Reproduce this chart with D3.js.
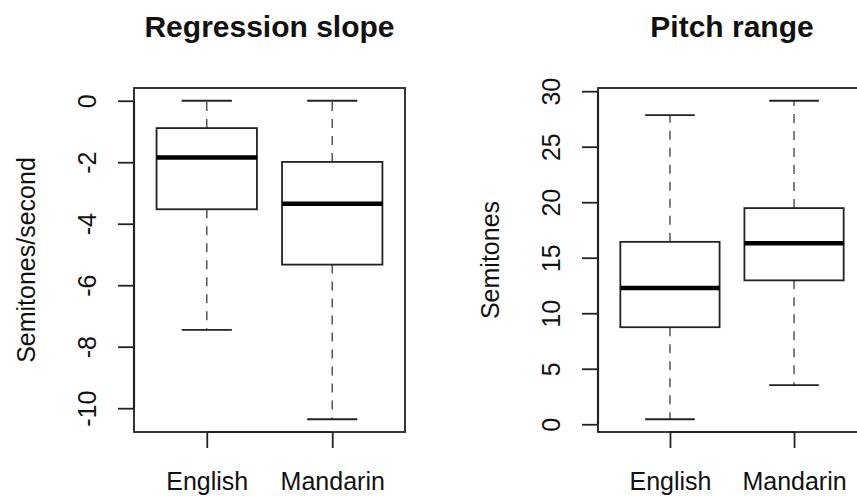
<!DOCTYPE html>
<html>
<head>
<meta charset="utf-8">
<script src="https://cdn.jsdelivr.net/npm/d3@7"></script>
<style>
  html, body { margin: 0; padding: 0; background: #fff; }
  svg { display: block; }
  text { font-family: "Liberation Sans", Arial, Helvetica, sans-serif; fill: #111; }
</style>
</head>
<body>
<svg id="chart" width="857" height="496"></svg>
<script>
// Groups shown in both panels
const categories = ["English", "Mandarin"];

// Five-number summaries: [lower whisker, Q1, median, Q3, upper whisker]
const slopeEnglish  = [-7.45, -3.53, -1.85, -0.89, 0];
const slopeMandarin = [-10.36, -5.33, -3.35, -1.99, 0];
const rangeEnglish  = [0.45, 8.74, 12.27, 16.43, 27.85];
const rangeMandarin = [3.53, 12.96, 16.30, 19.47, 29.14];

// Axis tick values
const slopeTicks = [0, -2, -4, -6, -8, -10];
const rangeTicks = [0, 5, 10, 15, 20, 25, 30];

// Panel titles and y-axis labels
const titles = ["Regression slope", "Pitch range"];
const yLabels = ["Semitones/second", "Semitones"];

const panels = [
  { title: titles[0], ylab: yLabels[0], stats: [slopeEnglish, slopeMandarin], ticks: slopeTicks,
    left: 134, right: 405 },
  { title: titles[1], ylab: yLabels[1], stats: [rangeEnglish, rangeMandarin], ticks: rangeTicks,
    left: 598, right: 866 }
];

const plotTop = 88, plotBottom = 432;
const svg = d3.select("#chart");
const lineCol = "#222";
const fontStack = "'Liberation Sans', Arial, Helvetica, sans-serif";

// Extend a range by 4% on each side, the way base-R plots pad their axes
function padded(lo, hi) {
  const d = (hi - lo) * 0.04;
  return [lo - d, hi + d];
}

panels.forEach(p => {
  const g = svg.append("g");
  const all = p.stats.flat();
  const y = d3.scaleLinear().domain(padded(d3.min(all), d3.max(all))).range([plotBottom, plotTop]);
  const positions = categories.map((c, i) => i + 1);
  const x = d3.scaleLinear().domain(padded(0.5, categories.length + 0.5)).range([p.left, p.right]);
  const unit = x(2) - x(1);
  const boxW = 0.8 * unit;
  const capW = boxW / 2;

  // Plot frame
  g.append("rect")
    .attr("x", p.left).attr("y", plotTop)
    .attr("width", p.right - p.left).attr("height", plotBottom - plotTop)
    .attr("fill", "none").attr("stroke", lineCol).attr("stroke-width", 1.8);

  // Boxes
  p.stats.forEach((s, i) => {
    const cx = x(positions[i]);
    const [lo, q1, med, q3, hi] = s;
    const bg = g.append("g");
    // whiskers (dashed)
    bg.append("line").attr("x1", cx).attr("x2", cx).attr("y1", y(q1)).attr("y2", y(lo))
      .attr("stroke", "#555").attr("stroke-width", 1.5).attr("stroke-dasharray", "9,8");
    bg.append("line").attr("x1", cx).attr("x2", cx).attr("y1", y(q3)).attr("y2", y(hi))
      .attr("stroke", "#555").attr("stroke-width", 1.5).attr("stroke-dasharray", "9,8");
    // whisker caps
    [lo, hi].forEach(v => {
      bg.append("line").attr("x1", cx - capW / 2).attr("x2", cx + capW / 2)
        .attr("y1", y(v)).attr("y2", y(v))
        .attr("stroke", lineCol).attr("stroke-width", 1.8);
    });
    // box
    bg.append("rect").attr("x", cx - boxW / 2).attr("y", y(q3))
      .attr("width", boxW).attr("height", y(q1) - y(q3))
      .attr("fill", "#fff").attr("stroke", lineCol).attr("stroke-width", 1.8);
    // median
    bg.append("line").attr("x1", cx - boxW / 2).attr("x2", cx + boxW / 2)
      .attr("y1", y(med)).attr("y2", y(med))
      .attr("stroke", "#000").attr("stroke-width", 4.5);
  });

  // Y axis with rotated labels
  const yAxis = d3.axisLeft(y).tickValues(p.ticks).tickSize(16).tickPadding(0).tickSizeOuter(0)
    .tickFormat(d => d < 0 ? "-" + Math.abs(d) : String(d));
  const ya = g.append("g").attr("transform", `translate(${p.left},0)`).call(yAxis)
    .attr("font-family", fontStack).attr("font-size", 25);
  ya.select(".domain").attr("d", `M0,${y(d3.max(p.ticks))}V${y(d3.min(p.ticks))}`)
    .attr("stroke", lineCol).attr("stroke-width", 2.2);
  ya.selectAll(".tick line").attr("stroke", lineCol).attr("stroke-width", 1.8);
  ya.selectAll(".tick text")
    .attr("x", null).attr("dy", null)
    .attr("text-anchor", "middle")
    .attr("transform", "translate(-38,0) rotate(-90)")
    .attr("fill", "#111");

  // X axis with category labels
  const xAxis = d3.axisBottom(x).tickValues(positions).tickSize(16).tickPadding(0).tickSizeOuter(0)
    .tickFormat((d, i) => categories[i]);
  const xa = g.append("g").attr("transform", `translate(0,${plotBottom})`).call(xAxis)
    .attr("font-family", fontStack).attr("font-size", 25);
  xa.select(".domain").attr("d", `M${x(1)},0H${x(categories.length)}`)
    .attr("stroke", lineCol).attr("stroke-width", 2.2);
  xa.selectAll(".tick line").attr("stroke", lineCol).attr("stroke-width", 1.8);
  xa.selectAll(".tick text").attr("y", 58).attr("dy", null).attr("fill", "#111");

  // Y-axis title
  g.append("text")
    .attr("transform", `translate(${p.left - 99},${(plotTop + plotBottom) / 2}) rotate(-90)`)
    .attr("text-anchor", "middle")
    .style("font-size", "25px")
    .text(p.ylab);

  // Panel title
  g.append("text")
    .attr("x", (p.left + p.right) / 2).attr("y", 37)
    .attr("text-anchor", "middle")
    .style("font-size", "30px").style("font-weight", "bold")
    .text(p.title);
});
</script>
</body>
</html>
